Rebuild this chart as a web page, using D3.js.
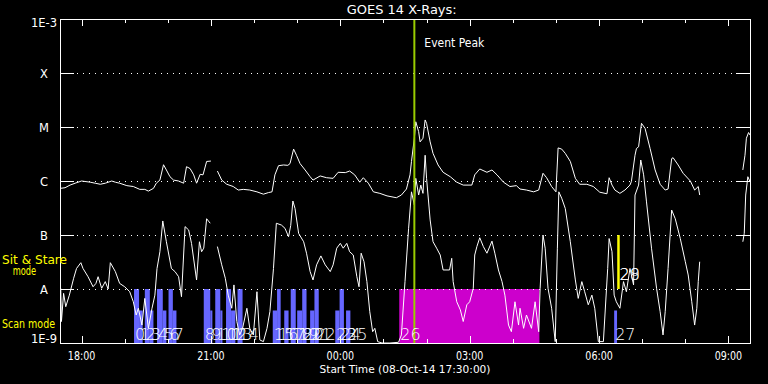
<!DOCTYPE html>
<html><head><meta charset="utf-8">
<script src="https://cdn.jsdelivr.net/npm/d3@7"></script>
<style>html,body{margin:0;background:#000;} svg{display:block;} text{font-family:"DejaVu Sans",sans-serif;}</style>
</head><body><svg id="c" width="768" height="384"></svg>
<script>
const titleText = "GOES 14 X-Rays:";
const xTitle = "Start Time (08-Oct-14 17:30:00)";
// minutes since 08-Oct-14 17:30
const tickMinutes = [30, 210, 390, 570, 750, 930];
const tickLabels = ["18:00", "21:00", "00:00", "03:00", "06:00", "09:00"];
const minorMinutes = [90, 150, 270, 330, 450, 510, 630, 690, 810, 870];
const levelValues = [1e-9, 1e-8, 1e-7, 1e-6, 1e-5, 1e-4, 1e-3];
const levelLabels = ["1E-9", "A", "B", "C", "M", "X", "1E-3"];

// GOES long channel (1-8 A)
const longT = [0,7,14,21,30,42,49,56,63,72,77,83,93,102,111,118,123,130,134,139,144,148,153,158,165,172,176,181,186,190,195,199,204,210,213,219,225,232,241,248,255,264,274,283,290,295,299,304,311,317,320,325,329,334,341,348,352,362,371,380,387,397,403,410,417,422,429,436,445,455,468,475,482,487,489,493,495,499,501,505,508,510,515,519,526,533,543,552,561,573,577,584,594,601,608,617,626,635,640,649,659,666,672,677,684,690,693,698,703,710,717,723,733,742,751,761,764,768,772,779,786,793,795,800,802,805,809,814,821,828,835,842,846,851,853,860,867,877,883,888,890,920,950,953,955,958,960];
const longV = [7.3e-7,7.5e-7,8.4e-7,9.1e-7,1.0e-6,9.5e-7,9.1e-7,8.7e-7,9.1e-7,1.0e-6,9.5e-7,9.1e-7,8.2e-7,7.9e-7,7.0e-7,7.0e-7,6.5e-7,7.3e-7,9.1e-7,1.04e-6,2.0e-6,1.6e-6,1.2e-6,1.04e-6,1.0e-6,9.1e-7,1.84e-6,1.7e-6,1.3e-6,9.1e-7,1.33e-6,1.3e-6,2.3e-6,2.34e-6,null,1.53e-6,1.04e-6,8.7e-7,7.9e-7,6.8e-7,7.0e-7,6.8e-7,6.3e-7,5.7e-7,6.1e-7,6.3e-7,1.3e-6,1.92e-6,1.98e-6,1.95e-6,2.1e-6,3.9e-6,3.0e-6,2.1e-6,1.6e-6,1.2e-6,1.04e-6,1.24e-6,1.15e-6,1.12e-6,1.45e-6,1.43e-6,1.53e-6,1.3e-6,9.5e-7,1.15e-6,9.1e-7,6.3e-7,5.9e-7,5.3e-7,4.9e-7,5.5e-7,7.1e-7,1.3e-6,2.3e-6,6.2e-6,1.25e-5,8.2e-6,5.3e-6,6.2e-6,1.35e-5,1.17e-5,5.3e-6,3.25e-6,1.98e-6,1.45e-6,1.2e-6,9.5e-7,8.4e-7,8.4e-7,1.3e-6,1.67e-6,1.45e-6,1.6e-6,1.3e-6,9.5e-7,7.9e-7,8.2e-7,7.1e-7,6.8e-7,6.3e-7,6.8e-7,1.39e-6,1.15e-6,7.9e-7,6.3e-7,4.1e-6,3.9e-6,3.25e-6,2.3e-6,1.12e-6,8.7e-7,8.7e-7,7.9e-7,6.2e-7,5.8e-7,1.15e-6,8.4e-7,6.8e-7,5.9e-7,6.8e-7,8.4e-7,9.8e-7,3.0e-6,4.0e-6,4.3e-6,1.17e-5,9.4e-6,4.0e-6,1.6e-6,8.7e-7,6.8e-7,7.1e-7,2.6e-6,2.7e-6,1.98e-6,1.39e-6,1.0e-6,6.8e-7,7.9e-7,5.5e-7,null,1.6e-6,3.0e-6,6.2e-6,7.9e-6,7.1e-6];

// GOES short channel (0.5-4 A)
const shortT = [1,2,5,8,13,19,23,29,32,39,46,50,53,58,63,67,70,77,83,90,97,102,106,109,114,118,123,128,132,135,139,143,148,155,160,165,169,174,179,183,190,194,197,200,204,209,213,219,225,230,234,239,242,246,250,254,260,264,269,274,278,283,288,292,297,301,308,313,318,321,324,327,332,339,343,348,352,357,363,369,376,380,385,390,394,399,403,408,413,416,419,423,427,431,435,438,442,448,459,471,475,480,485,489,493,495,499,502,505,508,510,515,519,524,529,533,542,545,547,552,557,561,566,570,575,577,580,584,589,594,601,605,610,615,619,624,628,633,638,640,645,649,656,661,666,668,672,675,679,684,689,692,694,698,703,710,717,721,726,730,735,740,744,749,756,762,764,768,771,774,779,784,788,793,798,800,805,808,812,816,823,830,835,839,842,846,851,856,863,870,874,879,883,886,888,890,920,950,952,954,957,960];
const shortV = [1.03e-8,2.5e-9,8.3e-9,4.7e-9,7.7e-9,1.58e-8,2.4e-8,3.07e-8,2.4e-8,1.69e-8,1.1e-8,1.27e-8,1.69e-8,1.03e-8,1.37e-8,1.0e-8,3.07e-8,2.1e-8,1.27e-8,1.1e-8,8.9e-9,5.8e-9,3.3e-9,4.4e-9,2.15e-9,6.7e-9,1.87e-9,4.4e-9,7.7e-9,2.4e-8,4.9e-8,1.82e-7,7.5e-8,2.4e-8,2.1e-8,1.69e-8,7.2e-9,1.43e-7,1.24e-7,7.0e-8,1.47e-8,7.5e-8,4.9e-8,5.7e-8,2.0e-7,1.65e-7,null,6.1e-8,2.8e-8,1.58e-8,7.7e-9,4.4e-9,1.19e-8,2.5e-9,1.41e-9,1.87e-9,4.4e-9,1.87e-9,1.41e-9,8.9e-9,1.14e-9,1.06e-9,1.87e-9,3.8e-9,2.4e-8,1.65e-7,1.53e-7,1.33e-7,9.3e-8,1.5e-7,4.26e-7,3.1e-7,1.07e-7,7.5e-8,4.6e-8,2.1e-8,1.47e-8,2.8e-8,4.1e-8,2.8e-8,2.1e-8,2.8e-8,5.7e-8,7.0e-8,5.7e-8,7.0e-8,4.9e-8,4.26e-8,1.69e-8,1.1e-8,4.6e-8,3.2e-8,1.37e-8,3.8e-9,1.62e-9,1.87e-9,1.06e-9,1.0e-9,1.0e-9,1.03e-9,1.41e-9,1.37e-8,1.33e-7,6.3e-7,3.6e-7,1.12e-6,5.5e-7,8.4e-7,5.9e-7,3.0e-6,1.12e-6,1.9e-7,7.5e-8,5.7e-8,4.26e-8,2.25e-8,2.25e-8,3.7e-8,1.37e-8,5.8e-9,4.1e-9,2.5e-9,5.1e-9,5.8e-9,1.03e-8,4.26e-8,6.1e-8,8.9e-8,6.1e-8,4.6e-8,7.7e-8,4.6e-8,2.25e-8,1.37e-8,7.7e-9,2.15e-9,1.62e-9,5.8e-9,2.15e-9,4.4e-9,1.87e-9,3.3e-9,1.87e-9,5.8e-9,1.62e-9,1.03e-8,1.0e-7,5.7e-8,1.03e-8,4.4e-9,1.06e-9,5.7e-8,6.3e-7,4.8e-7,3.1e-7,7.5e-8,1.47e-8,6.7e-9,1.37e-8,8.9e-9,5.1e-9,7.7e-9,4.4e-9,1.06e-9,1.06e-9,2.4e-8,8.6e-8,4.9e-8,7.7e-9,5.8e-9,4.4e-9,1.37e-8,8.9e-9,2.4e-8,1.19e-8,5.5e-7,8.4e-7,2.45e-6,1.3e-6,4.1e-7,5.7e-8,1.03e-8,3.8e-9,1.41e-9,3.8e-9,2.4e-8,2.9e-7,2.0e-7,8.6e-8,3.2e-8,1.82e-8,5.8e-9,2.15e-9,4.4e-9,1.37e-8,3.2e-8,null,7.5e-8,1.07e-7,5.5e-7,1.2e-6,9.7e-7];

// Scan-mode observations: start/end (minutes), top level, label
const scanStart = [103,110,118,125,135,143,151,157, 200,209,216,223,231,238,247, 296,302,312,321,330,337,348,354,383,389,398, 771];
const scanEnd   = [110,115,125,130,143,148,157,162, 209,212,223,226,238,244,254, 302,307,318,328,337,343,354,360,389,395,404, 775];
const scanTop   = [1e-8,4e-9,1e-8,4e-9,1e-8,4e-9,1e-8,4e-9, 1e-8,4e-9,1e-8,4e-9,1e-8,4e-9,1e-8, 4e-9,1e-8,4e-9,1e-8,4e-9,1e-8,4e-9,1e-8,4e-9,1e-8,4e-9, 4e-9];
const scanLabel = ["0","1","2","3","4","5","6","7","8","9","10","11","12","13","14","15","16","17","18","19","20","21","22","23","24","25","27"];
// Sit & stare observations
const sitStart = [472];
const sitEnd = [667];
const sitLabel = ["26"];
const sitPointT = [777, 777];
const sitPointLabel = ["28", "29"];
const eventPeakT = 493;

const W = 768, H = 384;
const L = 60, R = 750, T = 19, B = 343;
const svg = d3.select("#c");
svg.append("rect").attr("width", W).attr("height", H).attr("fill", "#000");

const x = d3.scaleLinear().domain([0, 960]).range([L, R]);
const y = d3.scaleLog().domain([1e-9, 1e-3]).range([B, T]).clamp(true);

// scan bars
const scans = scanStart.map((s, i) => ({s, e: scanEnd[i], top: scanTop[i], label: scanLabel[i]}));
svg.append("g").selectAll("rect").data(scans).join("rect")
  .attr("x", d => x(d.s)).attr("width", d => x(d.e) - x(d.s))
  .attr("y", d => y(d.top)).attr("height", d => B - y(d.top))
  .attr("fill", "#6666ff");
// sit & stare block
const sits = sitStart.map((s, i) => ({s, e: sitEnd[i], label: sitLabel[i]}));
svg.append("g").selectAll("rect").data(sits).join("rect")
  .attr("x", d => x(d.s)).attr("width", d => x(d.e) - x(d.s))
  .attr("y", y(1e-8)).attr("height", B - y(1e-8))
  .attr("fill", "#cc00cc");

// grid lines (dotted) at inner levels
const inner = levelValues.slice(1, -1);
svg.append("g").selectAll("line").data(inner).join("line")
  .attr("x1", L + 17).attr("x2", R - 15)
  .attr("y1", d => Math.round(y(d)) + 0.5).attr("y2", d => Math.round(y(d)) + 0.5)
  .attr("stroke", "#fff").attr("stroke-width", 1).attr("stroke-dasharray", "1,5");

// curves
const lineGen = d3.line().defined(d => d.v != null).x(d => x(d.t)).y(d => y(d.v));
const longData = longT.map((t, i) => ({t, v: longV[i]}));
const shortData = shortT.map((t, i) => ({t, v: shortV[i]}));
svg.append("path").datum(longData).attr("d", lineGen).attr("fill", "none").attr("stroke", "#fff").attr("stroke-width", 1);
svg.append("path").datum(shortData).attr("d", lineGen).attr("fill", "none").attr("stroke", "#fff").attr("stroke-width", 1);

// event peak line
svg.append("line").attr("x1", x(eventPeakT)).attr("x2", x(eventPeakT)).attr("y1", T).attr("y2", B)
  .attr("stroke", "#99cc00").attr("stroke-width", 2);
svg.append("text").attr("x", x(eventPeakT) + 10).attr("y", 47).attr("fill", "#fff")
  .attr("font-size", 12).attr("textLength", 60).attr("lengthAdjust", "spacingAndGlyphs").text("Event Peak");

// sit point marker
svg.append("g").selectAll("line").data(sitPointT).join("line")
  .attr("x1", d => x(d)).attr("x2", d => x(d)).attr("y1", y(1e-7)).attr("y2", y(1e-8))
  .attr("stroke", "#ffff00").attr("stroke-width", 2);

// frame
svg.append("rect").attr("x", L + 0.5).attr("y", T + 0.5).attr("width", R - L).attr("height", B - T)
  .attr("fill", "none").attr("stroke", "#fff").attr("stroke-width", 1);

// y ticks (solid segments at both sides)
const yt = svg.append("g").attr("stroke", "#fff");
inner.forEach(v => {
  const yy = Math.round(y(v)) + 0.5;
  yt.append("line").attr("x1", L).attr("x2", L + 14).attr("y1", yy).attr("y2", yy);
  yt.append("line").attr("x1", R - 14).attr("x2", R + 1).attr("y1", yy).attr("y2", yy);
});
// y labels
svg.append("g").selectAll("text").data(levelValues).join("text")
  .attr("x", 44).attr("text-anchor", "middle")
  .attr("y", (d, i) => i === 0 ? B : (i === levelValues.length - 1 ? T + 8 : y(d) + 4.5))
  .attr("fill", "#fff").attr("font-size", 11.5)
  .text((d, i) => levelLabels[i]);

// x ticks: major and minor, top and bottom
const xt = svg.append("g").attr("stroke", "#fff");
tickMinutes.forEach(m => {
  const xx = Math.round(x(m)) + 0.5;
  xt.append("line").attr("x1", xx).attr("x2", xx).attr("y1", T).attr("y2", T + 7);
  xt.append("line").attr("x1", xx).attr("x2", xx).attr("y1", B).attr("y2", B - 7);
});
minorMinutes.forEach(m => {
  const xx = Math.round(x(m)) + 0.5;
  xt.append("line").attr("x1", xx).attr("x2", xx).attr("y1", T).attr("y2", T + 4);
  xt.append("line").attr("x1", xx).attr("x2", xx).attr("y1", B).attr("y2", B - 4);
});
svg.append("g").selectAll("text").data(tickMinutes).join("text")
  .attr("x", d => x(d)).attr("y", 359.5).attr("text-anchor", "middle")
  .attr("fill", "#fff").attr("font-size", 11.5)
  .attr("textLength", 27.5).attr("lengthAdjust", "spacingAndGlyphs")
  .text((d, i) => tickLabels[i]);

// bar labels
svg.append("g").selectAll("text").data(scans).join("text")
  .attr("x", d => x(d.s) + 1).attr("y", 339.5)
  .attr("fill", "#fff").attr("font-size", 16).attr("font-weight", 200)
  .text(d => d.label);
svg.append("g").selectAll("text").data(sits).join("text")
  .attr("x", d => x(d.s) + 1).attr("y", 339.5)
  .attr("fill", "#fff").attr("font-size", 16).attr("font-weight", 200)
  .text(d => d.label);
svg.append("g").selectAll("text").data(sitPointT).join("text")
  .attr("x", d => x(d) + 1).attr("y", 279.5)
  .attr("fill", "#fff").attr("font-size", 16).attr("font-weight", 200)
  .text((d, i) => sitPointLabel[i]);

// titles
svg.append("text").attr("x", 401.7).attr("y", 14).attr("text-anchor", "middle")
  .attr("fill", "#fff").attr("font-size", 12).attr("textLength", 110).attr("lengthAdjust", "spacingAndGlyphs")
  .text(titleText);
svg.append("text").attr("x", 405).attr("y", 372.5).attr("text-anchor", "middle")
  .attr("fill", "#fff").attr("font-size", 11).attr("textLength", 171).attr("lengthAdjust", "spacingAndGlyphs")
  .text(xTitle);

// mode labels
const modeG = svg.append("g").attr("fill", "#ffff00").attr("font-size", 11.5);
modeG.append("text").attr("x", 2).attr("y", 263.5).attr("textLength", 65).attr("lengthAdjust", "spacingAndGlyphs").text("Sit & Stare");
modeG.append("text").attr("x", 12.7).attr("y", 275).attr("textLength", 23.5).attr("lengthAdjust", "spacingAndGlyphs").text("mode");
modeG.append("text").attr("x", 2).attr("y", 327.5).attr("textLength", 53).attr("lengthAdjust", "spacingAndGlyphs").text("Scan mode");
</script></body></html>
